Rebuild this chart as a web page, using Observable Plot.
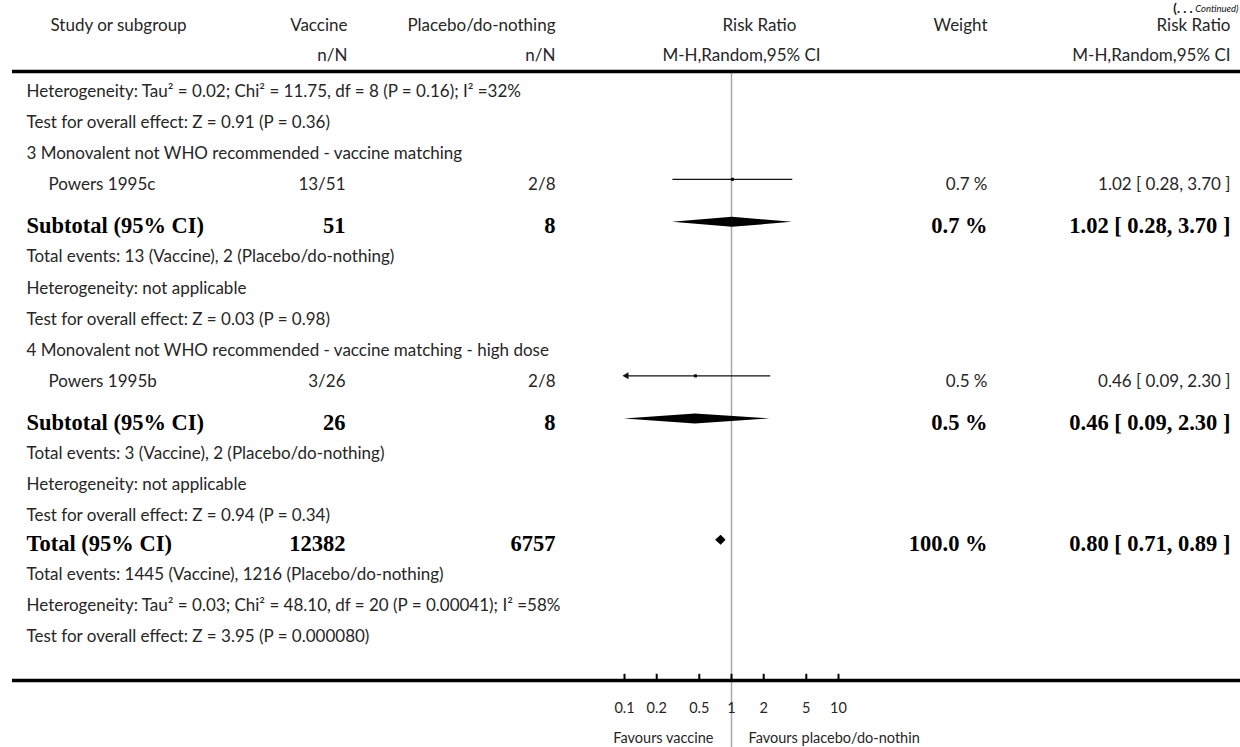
<!DOCTYPE html>
<html><head><meta charset="utf-8">
<script src="https://cdn.jsdelivr.net/npm/d3@7"></script>
<script src="https://cdn.jsdelivr.net/npm/@observablehq/plot@0.6"></script>
<style>html,body{margin:0;padding:0;background:#fff}#chart svg{display:block}</style>
</head><body><div id="chart"></div>
<script>
// ---- data ----
const rowLabels = [
  "Heterogeneity: Tau² = 0.02; Chi² = 11.75, df = 8 (P = 0.16); I² =32%",
  "Test for overall effect: Z = 0.91 (P = 0.36)",
  "3 Monovalent not WHO recommended - vaccine matching",
  "Powers 1995c",
  "Subtotal (95% CI)",
  "Total events: 13 (Vaccine), 2 (Placebo/do-nothing)",
  "Heterogeneity: not applicable",
  "Test for overall effect: Z = 0.03 (P = 0.98)",
  "4 Monovalent not WHO recommended - vaccine matching - high dose",
  "Powers 1995b",
  "Subtotal (95% CI)",
  "Total events: 3 (Vaccine), 2 (Placebo/do-nothing)",
  "Heterogeneity: not applicable",
  "Test for overall effect: Z = 0.94 (P = 0.34)",
  "Total (95% CI)",
  "Total events: 1445 (Vaccine), 1216 (Placebo/do-nothing)",
  "Heterogeneity: Tau² = 0.03; Chi² = 48.10, df = 20 (P = 0.00041); I² =58%",
  "Test for overall effect: Z = 3.95 (P = 0.000080)"
];
const rowKinds = ["note","note","group","study","subtotal","note","note","note","group","study","subtotal","note","note","note","total","note","note","note"];
const vaccineCol = ["","","","13/51","51","","","","","3/26","26","","","","12382","","",""];
const placeboCol = ["","","","2/8","8","","","","","2/8","8","","","","6757","","",""];
const weightCol  = ["","","","0.7 %","0.7 %","","","","","0.5 %","0.5 %","","","","100.0 %","","",""];
const ciCol      = ["","","","1.02 [ 0.28, 3.70 ]","1.02 [ 0.28, 3.70 ]","","","","","0.46 [ 0.09, 2.30 ]","0.46 [ 0.09, 2.30 ]","","","","0.80 [ 0.71, 0.89 ]","","",""];
const riskRatio  = [null,null,null,1.02,1.02,null,null,null,null,0.46,0.46,null,null,null,0.80,null,null,null];
const ciLow      = [null,null,null,0.28,0.28,null,null,null,null,0.09,0.09,null,null,null,0.71,null,null,null];
const ciHigh     = [null,null,null,3.70,3.70,null,null,null,null,2.30,2.30,null,null,null,0.89,null,null,null];

const headerTop = ["Study or subgroup","Vaccine","Placebo/do-nothing","Risk Ratio","Weight","Risk Ratio"];
const headerSub = ["","n/N","n/N","M-H,Random,95% CI","","M-H,Random,95% CI"];
const tickValues = [0.1, 0.2, 0.5, 1, 2, 5, 10];
const tickLabels = ["0.1","0.2","0.5","1","2","5","10"];
const favoursLeft = "Favours vaccine";
const favoursRight = "Favours placebo/do-nothin";
const continuedMark = "(. . .";
const continuedWord = "Continued)";
const xDomain = [0.1, 10];

// ---- layout (row units) ----
let acc = 0;
const rowY = rowKinds.map((k, i) => { if (i > 0) acc += k === "subtotal" ? 1.32 : k === "total" ? 0.9 : 1; return acc; });
const rows = rowLabels.map((label, i) => ({
  label, kind: rowKinds[i], y: rowY[i],
  vac: vaccineCol[i], pla: placeboCol[i], w: weightCol[i], ci: ciCol[i],
  rr: riskRatio[i], lo: ciLow[i], hi: ciHigh[i]
}));
const unit = 31.1;
const yHeader1 = -2.11, yHeader2 = -1.15, yHeadLine = -0.64, yContinued = -2.65;
const yAxisLine = 18.94, yTickTop = 18.74, yTickLab = 19.84, yFav = 20.8;
const yMin = -2.926, yMax = 21.093;
const clampX = v => Math.max(xDomain[0], Math.min(xDomain[1], v));

const studies = rows.filter(r => r.kind === "study").map(r => ({...r, sy: r.y - 5.5/unit}));
const pooled = rows.filter(r => r.kind === "subtotal" || r.kind === "total").map(r => ({...r, sy: r.y - 3.5/unit}));
const h = 5/unit;
const diamondPts = pooled.flatMap((r, i) => [
  {id: i, x: clampX(r.lo), y1: r.sy, y2: r.sy},
  {id: i, x: r.rr, y1: r.sy - h, y2: r.sy + h},
  {id: i, x: clampX(r.hi), y1: r.sy, y2: r.sy}
]);
const headers = headerTop.map((t, i) => ({t, s: headerSub[i], i}));
const ticks = tickValues.map((v, i) => ({v, label: tickLabels[i]}));

const ink = "#262626";
const sans = {fontFamily: "Lato, 'Open Sans', sans-serif", fontSize: 17, fill: ink};
const serifB = {fontFamily: "'Liberation Serif', 'DejaVu Serif', serif", fontWeight: "bold", fontSize: 22.5, fill: "#000"};
const normalRows = rows.filter(r => r.kind !== "subtotal" && r.kind !== "total");
const boldRows = rows.filter(r => r.kind === "subtotal" || r.kind === "total");

function colText(data, key, dx, anchor, style) {
  return Plot.text(data.filter(r => r[key] !== ""), {y: "y", text: key, frameAnchor: "left", dx, textAnchor: anchor, ...style});
}
function headText(i, key, y, dx, anchor) {
  return Plot.text(headers.filter(d => d.i === i), {y, text: key, frameAnchor: "left", dx, textAnchor: anchor, ...sans});
}

const chart = Plot.plot({
  width: 1240, height: 747,
  marginTop: 0, marginBottom: 0, marginLeft: 0, marginRight: 0,
  x: {type: "log", domain: xDomain, range: [624, 838], axis: null},
  y: {domain: [yMin, yMax], range: [0, 747], axis: null},
  style: {background: "#fff"},
  marks: [
    // continued note
    Plot.text([continuedMark], {y: yContinued, text: d => d, frameAnchor: "left", dx: 1192, textAnchor: "end", fontFamily: "Lato", fontWeight: "bold", fontSize: 13, fill: "#111"}),
    Plot.text([continuedWord], {y: yContinued, text: d => d, frameAnchor: "left", dx: 1238, textAnchor: "end", fontFamily: "Lato", fontStyle: "italic", fontSize: 9.5, fill: "#111"}),
    // headers
    headText(0, "t", yHeader1, 50, "start"),
    headText(1, "t", yHeader1, 347, "end"),
    headText(2, "t", yHeader1, 555, "end"),
    headText(3, "t", yHeader1, 759, "middle"),
    headText(4, "t", yHeader1, 987, "end"),
    headText(5, "t", yHeader1, 1230, "end"),
    headText(1, "s", yHeader2, 347, "end"),
    headText(2, "s", yHeader2, 555, "end"),
    headText(3, "s", yHeader2, 741, "middle"),
    headText(5, "s", yHeader2, 1230, "end"),
    // reference line at RR = 1
    Plot.ruleX([1], {y1: yHeadLine, y2: yMax, stroke: "#a8a8a8", strokeWidth: 1.5}),
    // header and axis lines
    Plot.ruleY([yHeadLine], {insetLeft: 12, stroke: "#000", strokeWidth: 3.5}),
    Plot.ruleY([yAxisLine], {insetLeft: 12, stroke: "#000", strokeWidth: 3.5}),
    // left label column
    Plot.text(normalRows.filter(r => r.kind !== "study"), {y: "y", text: "label", frameAnchor: "left", dx: 26, textAnchor: "start", ...sans}),
    Plot.text(normalRows.filter(r => r.kind === "study"), {y: "y", text: "label", frameAnchor: "left", dx: 48, textAnchor: "start", ...sans}),
    Plot.text(boldRows, {y: "y", text: "label", frameAnchor: "left", dx: 26, textAnchor: "start", ...serifB}),
    // numeric columns
    colText(normalRows, "vac", 345, "end", sans),
    colText(boldRows, "vac", 345, "end", serifB),
    colText(normalRows, "pla", 555, "end", sans),
    colText(boldRows, "pla", 555, "end", serifB),
    colText(normalRows, "w", 987, "end", sans),
    colText(boldRows, "w", 987, "end", serifB),
    colText(normalRows, "ci", 1230, "end", sans),
    colText(boldRows, "ci", 1230, "end", serifB),
    // study CIs
    Plot.link(studies, {x1: d => clampX(d.lo), x2: d => clampX(d.hi), y1: "sy", y2: "sy", stroke: "#111", strokeWidth: 1.2}),
    Plot.dot(studies.filter(d => d.lo < xDomain[0]), {x: xDomain[0], y: "sy", symbol: "triangle", r: 2.6, fill: "#111", stroke: "none", rotate: -90, dx: 2}),
    Plot.dot(studies.filter(d => d.hi > xDomain[1]), {x: xDomain[1], y: "sy", symbol: "triangle", r: 2.6, fill: "#111", stroke: "none", rotate: 90, dx: -2}),
    Plot.dot(studies, {x: "rr", y: "sy", symbol: "square", r: 1.7, fill: "#000", stroke: "none"}),
    // pooled diamonds
    Plot.areaY(diamondPts, {x: "x", y1: "y1", y2: "y2", z: "id", fill: "#000", curve: "linear"}),
    // axis ticks and labels
    Plot.ruleX(ticks, {x: "v", y1: yTickTop, y2: yAxisLine, stroke: "#000", strokeWidth: 2}),
    Plot.text(ticks, {x: "v", y: yTickLab, text: "label", fontFamily: "Lato", fontSize: 14.5, fill: ink}),
    Plot.text([favoursLeft], {x: 1, y: yFav, text: d => d, dx: -18, textAnchor: "end", fontFamily: "Lato", fontSize: 14.5, fill: ink}),
    Plot.text([favoursRight], {x: 1, y: yFav, text: d => d, dx: 17, textAnchor: "start", fontFamily: "Lato", fontSize: 14.5, fill: ink})
  ]
});
document.getElementById("chart").appendChild(chart);
</script>
</body></html>
